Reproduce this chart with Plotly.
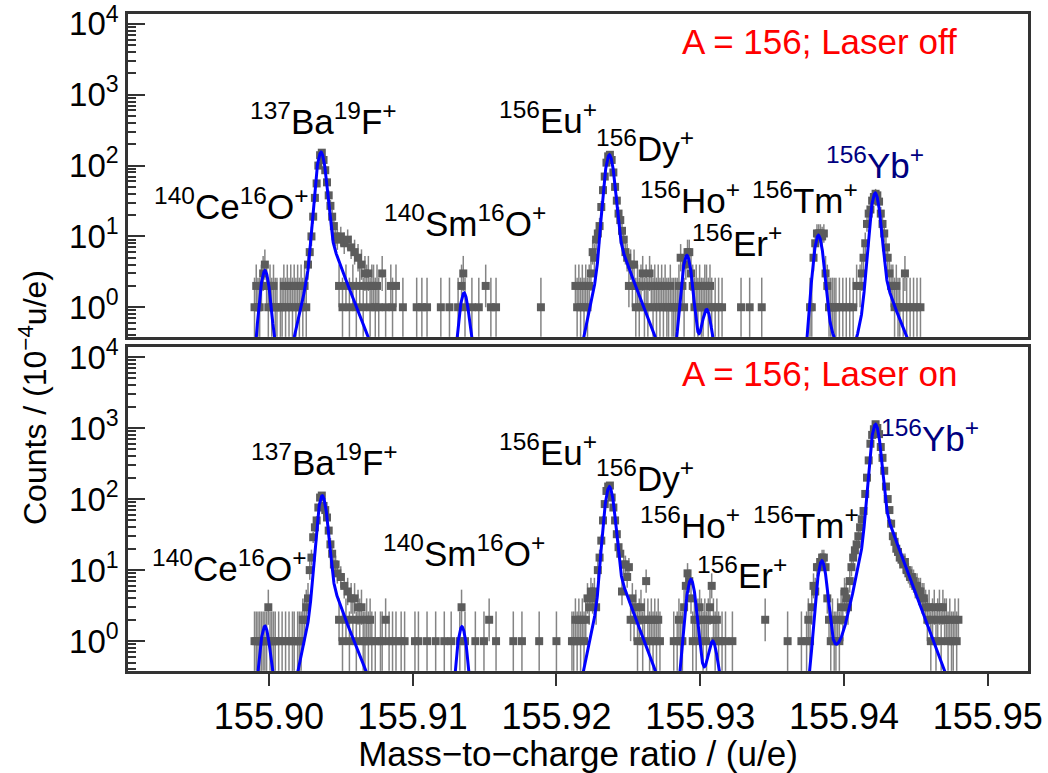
import numpy as np
import plotly.graph_objects as go

# ---------------- data (histogram: mass = BIN0 + k*BIN_W) ----------------
BIN0 = 155.89900
BIN_W = 0.00012

K_TOP = [0,1,2,3,4,5,6,7,8,9,10,11,12,13,15,16,17,18,19,20,21,22,23,24,25,26,27,28,29,30,31,
         32,33,34,35,36,37,38,39,40,41,42,43,44,45,46,47,48,49,50,51,52,53,54,55,56,57,58,59,60,
         61,62,63,64,65,66,67,68,69,70,71,72,74,76,79,80,82,86,94,97,100,
         108,113,118,120,121,122,126,130,134,137,140,166,
         186,187,188,189,190,191,192,193,194,195,196,197,198,199,200,201,202,203,204,205,206,207,
         208,209,210,211,212,213,214,215,216,217,218,219,220,221,222,223,224,225,226,227,228,229,
         230,231,232,233,234,235,236,237,238,239,240,241,242,243,244,245,
         246,247,248,249,250,251,252,253,254,255,256,257,258,259,260,261,262,263,264,265,267,269,271,
         282,287,294,
         322,323,324,325,326,327,328,329,330,331,332,333,334,335,336,337,339,341,343,345,347,349,
         351,352,353,354,355,356,357,358,359,360,361,362,363,364,365,366,367,368,369,370,371,372,
         373,374,376,377,378,380,382,384,386]
N_TOP = [1,2,1,1,2,3,4,2,1,2,1,2,1,1,1,1,2,1,2,1,2,1,2,1,2,1,2,1,2,1,4,
         6,10,19,35,56,100,140,152,120,86,58,38,27,19,14,10,9,2,10,1,8,2,9,1,7,2,6,1,5,
         2,4,1,3,2,3,1,2,2,1,2,1,3,1,2,1,2,1,1,1,1,
         1,1,1,2,3,1,1,1,2,1,1,1,
         2,1,2,1,2,1,2,1,2,3,6,5,9,11,14,26,45,70,110,135,142,120,
         80,50,32,21,17,12,9,6,5,2,4,2,4,1,2,1,2,3,1,2,1,3,
         2,1,2,1,2,1,2,1,2,1,1,2,1,1,1,1,
         2,5,2,1,4,6,6,3,2,1,2,1,2,1,1,2,2,1,2,1,1,1,1,
         1,1,1,
         1,1,5,8,11,11,11,10,11,3,2,1,1,1,1,1,1,1,1,1,1,2,
         2,3,5,8,15,21,24,32,36,40,38,31,21,15,11,7,5,3,2,2,1,2,
         1,1,1,3,1,1,1,1,1]

K_BOT = [0,1,2,3,4,5,6,7,8,9,10,11,12,14,16,18,20,22,23,25,26,27,28,29,30,31,
         32,33,34,35,36,37,38,39,40,41,42,43,44,45,46,47,48,49,50,51,52,53,54,55,56,57,58,59,60,
         61,62,63,64,65,66,67,68,70,73,74,76,78,80,82,85,87,93,95,100,
         105,110,114,119,120,122,128,133,136,140,150,155,165,175,
         184,185,186,187,188,189,190,191,192,193,194,195,196,197,198,199,200,201,202,203,204,205,
         206,207,208,209,210,211,212,213,214,215,216,217,218,219,220,221,222,223,224,225,226,227,
         228,229,230,231,232,233,234,235,
         243,245,246,247,248,249,250,251,252,253,254,255,256,257,258,259,260,261,262,263,264,265,
         266,267,268,269,271,273,277,
         296,309,317,320,321,
         322,323,324,325,326,327,328,329,330,331,332,333,334,335,336,337,338,339,340,341,342,343,
         344,345,346,347,348,349,350,351,352,353,354,355,356,357,358,359,360,361,362,363,364,365,
         366,367,368,369,370,371,372,373,374,375,376,377,378,379,380,381,382,383,384,385,386,387,
         388,389,390,391,392,393,394,395,396,397,398,399,400,401,402,403,404,405,406,407,408]
N_BOT = [1,1,1,1,1,1,1,1,3,1,1,1,1,1,1,1,1,1,1,1,1,1,2,2,3,4,
         10,15,29,40,50,76,105,112,80,70,55,36,23,17,12,12,9,2,8,1,6,2,5,1,4,2,4,1,3,
         2,3,1,1,2,1,2,1,1,1,1,2,1,1,1,1,1,1,1,1,
         1,1,1,1,3,1,1,1,2,1,1,1,1,1,
         1,1,2,1,2,1,2,1,2,4,3,5,4,5,3,10,15,26,50,85,130,150,
         155,105,76,50,32,21,17,5,12,12,8,11,2,4,2,3,1,2,3,1,2,7,
         2,1,2,1,2,1,2,1,
         1,1,2,1,1,3,6,9,7,4,1,2,1,2,3,2,1,2,1,2,3,6,
         2,1,2,1,1,1,1,
         2,1,1,1,2,
         1,3,6,5,11,11,13,15,15,11,4,2,1,2,1,1,2,1,3,2,5,4,
         3,7,11,15,19,23,30,40,52,68,118,200,350,600,800,960,1130,1000,820,540,380,250,
         150,100,70,45,30,25,20,18,15,14,12,13,10,9,8,8,7,6,6,5,5,4,
         4,3,2,3,1,2,3,1,2,3,1,3,2,2,1,2,1,1,2,1,2]

# fitted peaks: 140Ce16O, 137Ba19F, 140Sm16O, 156Eu/Dy, 156Ho, 156Er, 156Tm, 156Yb
CENTER_TOP = [155.89972, 155.90362, 155.91357, 155.92368, 155.92907, 155.93046, 155.93822, 155.94217]
AMP_TOP = [3.3, 155, 1.6, 142, 5.4, 0.8, 10.4, 41]
CENTER_BOT = [155.89972, 155.90371, 155.91342, 155.92368, 155.92935, 155.93088, 155.93846, 155.94219]
AMP_BOT = [1.63, 112, 1.6, 150, 7.4, 0.85, 13.5, 1130]
SIGMA = 0.00027
TAU_L = 0.00045
TAU_R = 0.00080
TAIL_FRAC = 0.16

X_TICKS = [155.90, 155.91, 155.92, 155.93, 155.94, 155.95]
Y_TICKS = [1, 10, 100, 1000, 10000]
Y_TICKTEXT = ["10<sup>0</sup>", "10<sup>1</sup>", "10<sup>2</sup>", "10<sup>3</sup>", "10<sup>4</sup>"]

# ---------------- figure ----------------
W, H = 1048, 773
L, R, T, B = 128, 20, 14, 102
PW, PH = W - L - R, H - T - B
FONT = "Liberation Sans, Arial, Helvetica, sans-serif"
FRAME = "#333333"


def py2paper(py):
    return (H - B - py) / PH


def px2paper(px):
    return (px - L) / PW


def peak_sum(x, centers, amps):
    tot = np.zeros_like(x)
    for c, a in zip(centers, amps):
        d = x - c
        g = np.exp(-0.5 * (d / SIGMA) ** 2)
        t = np.where(d < 0, np.exp(np.minimum(d, 0) / TAU_L), np.exp(-np.maximum(d, 0) / TAU_R))
        tot += a * (g + TAIL_FRAC * t) / (1 + TAIL_FRAC)
    return np.maximum(tot, 1e-3)


fig = go.Figure()
xfit = np.linspace(155.8985, 155.9495, 4000)

for K, N, cen, amp, ya in [(K_TOP, N_TOP, CENTER_TOP, AMP_TOP, "y"),
                           (K_BOT, N_BOT, CENTER_BOT, AMP_BOT, "y2")]:
    k = np.array(K)
    n = np.array(N, dtype=float)
    m = BIN0 + k * BIN_W
    s = np.sqrt(n + 0.25)
    fig.add_trace(go.Scatter(
        x=m, y=n, mode="markers", xaxis="x" if ya == "y" else "x2", yaxis=ya,
        marker=dict(symbol="square", size=8, color="#5c5c5c"),
        error_y=dict(type="data", symmetric=False, array=s + 0.5, arrayminus=s - 0.5,
                     color="rgba(110,110,110,0.85)", thickness=1.5, width=0),
        showlegend=False, hoverinfo="skip"))
    fig.add_trace(go.Scatter(
        x=xfit, y=peak_sum(xfit, cen, amp), mode="lines",
        xaxis="x" if ya == "y" else "x2", yaxis=ya,
        line=dict(color="#0000ff", width=3), showlegend=False, hoverinfo="skip"))

top_dom = [py2paper(337), 1.0]
bot_dom = [0.0, py2paper(347)]
xr = [155.8902, 155.9528]
yr = [-0.42, 4.14]
minor_vals = [m * 10 ** e for e in range(-1, 4) for m in range(2, 10)]

yax = dict(type="log", range=yr, tickvals=Y_TICKS, ticktext=Y_TICKTEXT, automargin=False,
           ticks="inside", ticklen=17, tickwidth=1.5, tickcolor=FRAME,
           showline=True, linecolor=FRAME, linewidth=2.5, mirror=True,
           showgrid=False, zeroline=False,
           tickfont=dict(family=FONT, size=33, color="black"),
           minor=dict(tickvals=minor_vals, ticks="inside", ticklen=8, tickwidth=1.5,
                      tickcolor=FRAME, showgrid=False))

fig.update_layout(
    width=W, height=H, margin=dict(l=L, r=R, t=T, b=B, autoexpand=False),
    paper_bgcolor="white", plot_bgcolor="white",
    font=dict(family=FONT, color="black"),
    xaxis=dict(domain=[0, 1], anchor="y", range=xr, showticklabels=False, ticks="",
               automargin=False,
               showline=True, linecolor=FRAME, linewidth=2.5, mirror=True,
               showgrid=False, zeroline=False),
    xaxis2=dict(domain=[0, 1], anchor="y2", range=xr, tickvals=X_TICKS,
                ticktext=[f"{v:.2f}" for v in X_TICKS], automargin=False,
                ticks="outside", ticklen=12, tickwidth=1.5, tickcolor=FRAME,
                showline=True, linecolor=FRAME, linewidth=2.5, mirror=True,
                showgrid=False, zeroline=False,
                tickfont=dict(family=FONT, size=36, color="black"),
                title=dict(text="Mass\u2212to\u2212charge ratio / (u/e)",
                           font=dict(family=FONT, size=35, color="black"), standoff=8)),
    yaxis=dict(domain=top_dom, anchor="x", **yax),
    yaxis2=dict(domain=bot_dom, anchor="x2", **yax),
)

BLACK = "black"
NAVY = "#000080"
RED = "#ff0000"
labels = [
    ("<sup>140</sup>Ce<sup>16</sup>O<sup>+</sup>", 231, 204, BLACK),
    ("<sup>137</sup>Ba<sup>19</sup>F<sup>+</sup>", 323, 119, BLACK),
    ("<sup>140</sup>Sm<sup>16</sup>O<sup>+</sup>", 465, 221, BLACK),
    ("<sup>156</sup>Eu<sup>+</sup>", 548, 118, BLACK),
    ("<sup>156</sup>Dy<sup>+</sup>", 645, 146, BLACK),
    ("<sup>156</sup>Ho<sup>+</sup>", 690, 198, BLACK),
    ("<sup>156</sup>Er<sup>+</sup>", 737, 241, BLACK),
    ("<sup>156</sup>Tm<sup>+</sup>", 805, 198, BLACK),
    ("<sup>156</sup>Yb<sup>+</sup>", 875, 163, NAVY),
    ("A = 156; Laser off", 819, 41, RED),
    ("<sup>140</sup>Ce<sup>16</sup>O<sup>+</sup>", 229, 566, BLACK),
    ("<sup>137</sup>Ba<sup>19</sup>F<sup>+</sup>", 324, 460, BLACK),
    ("<sup>140</sup>Sm<sup>16</sup>O<sup>+</sup>", 464, 551, BLACK),
    ("<sup>156</sup>Eu<sup>+</sup>", 548, 450, BLACK),
    ("<sup>156</sup>Dy<sup>+</sup>", 645, 476, BLACK),
    ("<sup>156</sup>Ho<sup>+</sup>", 690, 523, BLACK),
    ("<sup>156</sup>Er<sup>+</sup>", 742, 573, BLACK),
    ("<sup>156</sup>Tm<sup>+</sup>", 806, 523, BLACK),
    ("<sup>156</sup>Yb<sup>+</sup>", 930, 436, NAVY),
    ("A = 156; Laser on", 819, 373, RED),
]
for txt, px, py, col in labels:
    fig.add_annotation(text=txt, x=px2paper(px), y=py2paper(py), xref="paper", yref="paper",
                       showarrow=False, xanchor="center", yanchor="middle",
                       font=dict(family=FONT, size=35, color=col))

fig.add_annotation(text="Counts / (10<sup>\u22124</sup>u/e)", x=px2paper(33), y=py2paper(398),
                   xref="paper", yref="paper", showarrow=False, textangle=-90,
                   xanchor="center", yanchor="middle",
                   font=dict(family=FONT, size=32, color="black"))

fig.write_html("out.html")
